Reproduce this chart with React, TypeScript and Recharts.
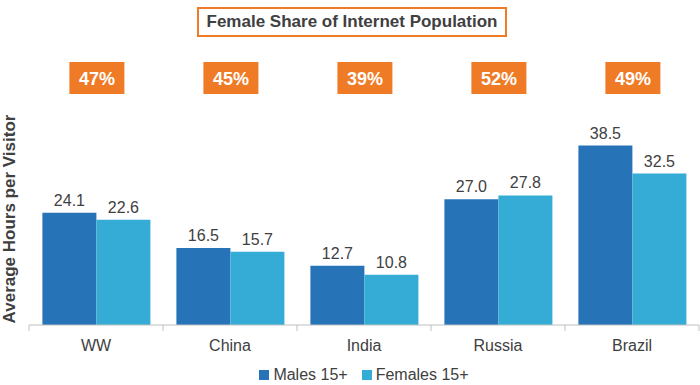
import React from "react";
import {
    Bar,
    BarChart,
    LabelList,
    Legend,
    XAxis,
    YAxis,
} from "recharts";

if (typeof document !== "undefined") {
    document.body.style.margin = "0";
}

const countries = ["WW", "China", "India", "Russia", "Brazil"];
const males = [24.1, 16.5, 12.7, 27.0, 38.5];
const females = [22.6, 15.7, 10.8, 27.8, 32.5];
const femaleShare = [47, 45, 39, 52, 49];

const MALE_COLOR = "#2673b8";
const FEMALE_COLOR = "#34acd6";
const ORANGE = "#f07b26";
const TEXT = "#404040";
const FONT = "'Liberation Sans', Arial, sans-serif";

const data = countries.map((name, i) => ({
    name,
    males: males[i],
    females: females[i],
    share: femaleShare[i],
}));

function ShareBox(props: any) {
    const { x, width, value } = props;
    // males bar sits left of the category centre, so its right edge is the centre
    const cx = Number(x) + Number(width);
    return (
        <g>
            <rect x={cx - 27} y={62} width={55} height={32} fill={ORANGE} />
            <text
                x={cx + 0.5}
                y={85}
                textAnchor="middle"
                fill="#ffffff"
                fontSize={18}
                fontWeight="bold"
                fontFamily={FONT}
            >
                {`${value}%`}
            </text>
        </g>
    );
}

function CategoryTick(props: any) {
    const { x, y, payload, index } = props;
    const half = payload && payload.offset ? payload.offset : 67;
    const last = index === countries.length - 1;
    return (
        <g>
            <line x1={x - half} y1={y - 8} x2={x - half} y2={y - 2} stroke="#bfbfbf" />
            {last && (
                <line x1={x + half} y1={y - 8} x2={x + half} y2={y - 2} stroke="#bfbfbf" />
            )}
            <text
                x={x}
                y={y + 18}
                textAnchor="middle"
                fill={TEXT}
                fontSize={16}
                fontFamily={FONT}
            >
                {payload.value}
            </text>
        </g>
    );
}

function LegendContent() {
    const items = [
        { label: "Males 15+", color: MALE_COLOR },
        { label: "Females 15+", color: FEMALE_COLOR },
    ];
    return (
        <div
            style={{
                display: "flex",
                justifyContent: "center",
                alignItems: "center",
                height: 25,
                paddingTop: 2,
                gap: 14,
                fontFamily: FONT,
                fontSize: 16,
                color: TEXT,
            }}
        >
            {items.map((it) => (
                <span key={it.label} style={{ display: "flex", alignItems: "center" }}>
                    <span
                        style={{
                            display: "inline-block",
                            width: 10,
                            height: 10,
                            background: it.color,
                            marginRight: 4,
                        }}
                    />
                    {it.label}
                </span>
            ))}
        </div>
    );
}

export default function App() {
    return (
        <div style={{ position: "relative", width: 700, height: 385, background: "#fff" }}>
            <BarChart
                width={700}
                height={385}
                data={data}
                margin={{ top: 92, right: 1, left: 29, bottom: 0 }}
                barCategoryGap="10%"
                barGap={0}
            >
                <XAxis
                    dataKey="name"
                    axisLine={{ stroke: "#bfbfbf" }}
                    tickLine={false}
                    tick={<CategoryTick />}
                    height={35}
                    interval={0}
                />
                <YAxis hide domain={[0, 50]} />
                <Legend
                    verticalAlign="bottom"
                    height={25}
                    content={<LegendContent />}
                />
                <Bar dataKey="males" fill={MALE_COLOR} isAnimationActive={false}>
                    <LabelList
                        dataKey="males"
                        position="top"
                        offset={7}
                        fill={TEXT}
                        fontSize={16}
                        fontFamily={FONT}
                        formatter={(v: any) => Number(v).toFixed(1)}
                    />
                    <LabelList dataKey="share" content={<ShareBox />} />
                </Bar>
                <Bar dataKey="females" fill={FEMALE_COLOR} isAnimationActive={false}>
                    <LabelList
                        dataKey="females"
                        position="top"
                        offset={7}
                        fill={TEXT}
                        fontSize={16}
                        fontFamily={FONT}
                        formatter={(v: any) => Number(v).toFixed(1)}
                    />
                </Bar>
                <text
                    x={9}
                    y={219}
                    transform="rotate(-90, 9, 219)"
                    textAnchor="middle"
                    dominantBaseline="central"
                    fill={TEXT}
                    fontSize={17}
                    fontWeight="bold"
                    fontFamily={FONT}
                >
                    Average Hours per Visitor
                </text>
            </BarChart>
            <div
                style={{
                    position: "absolute",
                    left: 197,
                    top: 7,
                    width: 306,
                    height: 26,
                    border: `2px solid ${ORANGE}`,
                    display: "flex",
                    alignItems: "center",
                    justifyContent: "center",
                    fontFamily: FONT,
                    fontSize: 17,
                    fontWeight: "bold",
                    color: TEXT,
                    background: "#fff",
                }}
            >
                Female Share of Internet Population
            </div>
        </div>
    );
}
